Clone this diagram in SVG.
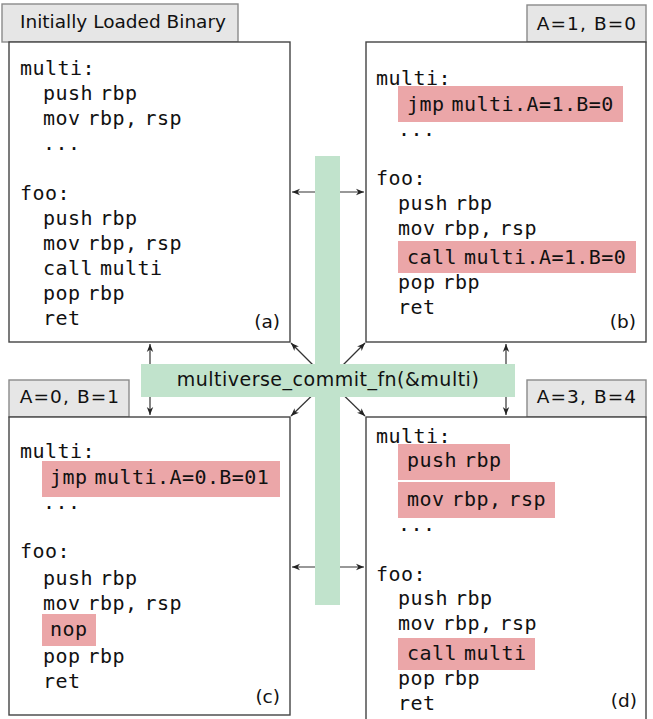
<svg xmlns="http://www.w3.org/2000/svg" width="653" height="719" viewBox="0 0 653 719">
<style>
.box{fill:#fff;stroke:#444;stroke-width:1.4}
.tag{fill:#e6e6e6;stroke:#8a8a8a;stroke-width:1.4}
.hl{fill:#eba6a8}
.green{fill:#c1e3cc}
.code{font-family:"DejaVu Sans Mono",monospace;font-size:20px;letter-spacing:0.45px;word-spacing:-5.5px;fill:#111}
.lab{font-family:"DejaVu Sans",sans-serif;font-size:18.5px;fill:#111}
.ab{letter-spacing:1.1px}
.con{stroke:#333;stroke-width:1.2;fill:none}
</style>
<defs>
<marker id="ah" viewBox="0 0 10 10" refX="10" refY="5" markerWidth="8" markerHeight="8" markerUnits="userSpaceOnUse" orient="auto-start-reverse">
<path d="M0,1 L10,5 L0,9 L3,5 Z" fill="#222"/>
</marker>
</defs>
<g id="connectors">
<line class="con" x1="292" y1="192" x2="364" y2="192" marker-start="url(#ah)" marker-end="url(#ah)"/>
<line class="con" x1="292" y1="567" x2="364" y2="567" marker-start="url(#ah)" marker-end="url(#ah)"/>
<line class="con" x1="150" y1="344" x2="150" y2="415" marker-start="url(#ah)" marker-end="url(#ah)"/>
<line class="con" x1="506" y1="344" x2="506" y2="415" marker-start="url(#ah)" marker-end="url(#ah)"/>
<line class="con" x1="328" y1="380" x2="291" y2="343" marker-end="url(#ah)"/>
<line class="con" x1="328" y1="380" x2="365" y2="343" marker-end="url(#ah)"/>
<line class="con" x1="328" y1="380" x2="291" y2="416" marker-end="url(#ah)"/>
<line class="con" x1="328" y1="380" x2="365" y2="416" marker-end="url(#ah)"/>
</g>
<g id="commit">
<rect class="green" x="315" y="156" width="25" height="449"/>
<rect class="green" x="141" y="364" width="374" height="33"/>
<text class="lab" x="328" y="386" text-anchor="middle" style="font-size:19px;letter-spacing:0.5px">multiverse_commit_fn(&amp;multi)</text>
</g>
<g id="box-a">
<rect class="tag" x="2" y="4" width="236" height="38"/>
<text class="lab" x="20" y="28">Initially Loaded Binary</text>
<rect class="box" x="9" y="42" width="281" height="300"/>
<text class="code" x="20" y="75">multi:</text>
<text class="code" x="43" y="100">push rbp</text>
<text class="code" x="43" y="125">mov rbp, rsp</text>
<text class="code" x="43" y="150">...</text>
<text class="code" x="20" y="200">foo:</text>
<text class="code" x="43" y="225">push rbp</text>
<text class="code" x="43" y="250">mov rbp, rsp</text>
<text class="code" x="43" y="275">call multi</text>
<text class="code" x="43" y="300">pop rbp</text>
<text class="code" x="43" y="325">ret</text>
<text class="lab" x="280" y="328" text-anchor="end">(a)</text>
</g>
<g id="box-b">
<rect class="tag" x="527" y="5" width="119" height="37"/>
<text class="lab ab" x="587" y="30" text-anchor="middle">A=1, B=0</text>
<rect class="box" x="366" y="42" width="280" height="300"/>
<text class="code" x="376" y="85">multi:</text>
<rect class="hl" x="398" y="86" width="225" height="36"/>
<text class="code" x="407" y="111">jmp multi.A=1.B=0</text>
<text class="code" x="398" y="136">...</text>
<text class="code" x="376" y="185">foo:</text>
<text class="code" x="398" y="210">push rbp</text>
<text class="code" x="398" y="235">mov rbp, rsp</text>
<rect class="hl" x="398" y="241" width="238" height="32"/>
<text class="code" x="407" y="264">call multi.A=1.B=0</text>
<text class="code" x="398" y="289">pop rbp</text>
<text class="code" x="398" y="314">ret</text>
<text class="lab" x="636" y="328" text-anchor="end">(b)</text>
</g>
<g id="box-c">
<rect class="tag" x="9" y="380" width="120" height="37"/>
<text class="lab ab" x="70" y="403" text-anchor="middle">A=0, B=1</text>
<rect class="box" x="9" y="417" width="281" height="298"/>
<text class="code" x="20" y="458">multi:</text>
<rect class="hl" x="42" y="461" width="238" height="36"/>
<text class="code" x="50" y="484">jmp multi.A=0.B=01</text>
<text class="code" x="43" y="509">...</text>
<text class="code" x="20" y="558">foo:</text>
<text class="code" x="43" y="585">push rbp</text>
<text class="code" x="43" y="610">mov rbp, rsp</text>
<rect class="hl" x="42" y="614" width="54" height="32"/>
<text class="code" x="50" y="636">nop</text>
<text class="code" x="43" y="663">pop rbp</text>
<text class="code" x="43" y="688">ret</text>
<text class="lab" x="280" y="703" text-anchor="end">(c)</text>
</g>
<g id="box-d">
<rect class="tag" x="527" y="380" width="119" height="37"/>
<text class="lab ab" x="587" y="403" text-anchor="middle">A=3, B=4</text>
<rect class="box" x="366" y="417" width="280" height="310"/>
<text class="code" x="376" y="443">multi:</text>
<rect class="hl" x="398" y="444" width="112" height="36"/>
<text class="code" x="407" y="467">push rbp</text>
<rect class="hl" x="398" y="482" width="157" height="36"/>
<text class="code" x="407" y="506">mov rbp, rsp</text>
<text class="code" x="398" y="531">...</text>
<text class="code" x="376" y="581">foo:</text>
<text class="code" x="398" y="605">push rbp</text>
<text class="code" x="398" y="630">mov rbp, rsp</text>
<rect class="hl" x="398" y="638" width="137" height="32"/>
<text class="code" x="407" y="660">call multi</text>
<text class="code" x="398" y="685">pop rbp</text>
<text class="code" x="398" y="710">ret</text>
<text class="lab" x="637" y="707" text-anchor="end">(d)</text>
</g>
</svg>
